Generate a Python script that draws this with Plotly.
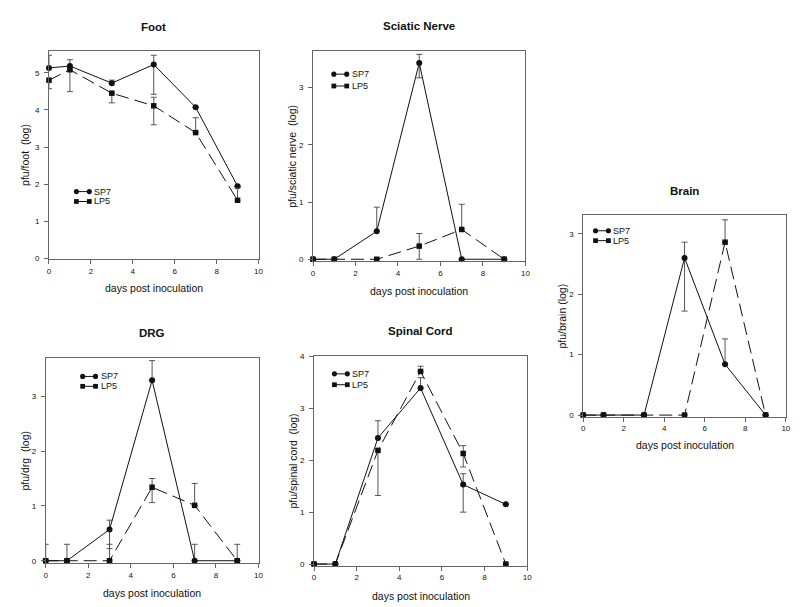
import plotly.graph_objects as go

W, H = 800, 607

days = [0, 1, 3, 5, 7, 9]
x_ticks = [0, 2, 4, 6, 8, 10]

# Foot
foot_sp7 = [5.13, 5.18, 4.72, 5.22, 4.07, 1.95]
foot_sp7_up = [0.34, 0.17, 0.08, 0.25, 0, 0]
foot_sp7_dn = [0, 0, 0, 0.80, 0, 0]
foot_lp5 = [4.80, 5.08, 4.45, 4.11, 3.39, 1.57]
foot_lp5_up = [0, 0, 0, 0.23, 0.40, 0.33]
foot_lp5_dn = [0.23, 0.59, 0.26, 0.51, 0, 0]

# Sciatic nerve
sci_sp7 = [0, 0, 0.49, 3.43, 0, 0]
sci_sp7_up = [0, 0, 0.42, 0.15, 0, 0]
sci_sp7_dn = [0, 0, 0, 0.26, 0, 0]
sci_lp5 = [0, 0, 0, 0.23, 0.52, 0]
sci_lp5_up = [0, 0, 0, 0.22, 0.44, 0]
sci_lp5_dn = [0, 0, 0, 0.23, 0, 0]

# Brain
brain_sp7 = [0, 0, 0, 2.60, 0.84, 0]
brain_sp7_up = [0, 0, 0, 0.26, 0.42, 0]
brain_sp7_dn = [0, 0, 0, 0.88, 0, 0]
brain_lp5 = [0, 0, 0, 0, 2.86, 0]
brain_lp5_up = [0, 0, 0, 0, 0.37, 0]
brain_lp5_dn = [0, 0, 0, 0, 0, 0]

# DRG
drg_sp7 = [0, 0, 0.57, 3.29, 0, 0]
drg_sp7_up = [0.30, 0, 0.17, 0.36, 0.30, 0]
drg_sp7_dn = [0, 0, 0.35, 0, 0, 0]
drg_lp5 = [0, 0, 0, 1.34, 1.01, 0]
drg_lp5_up = [0, 0.30, 0.30, 0.16, 0.40, 0.30]
drg_lp5_dn = [0, 0, 0, 0.28, 0, 0]

# Spinal cord
sc_sp7 = [0, 0, 2.43, 3.39, 1.53, 1.15]
sc_sp7_up = [0, 0, 0.33, 0.20, 0.21, 0]
sc_sp7_dn = [0, 0, 0, 0, 0.53, 0]
sc_lp5 = [0, 0, 2.19, 3.71, 2.13, 0]
sc_lp5_up = [0, 0, 0, 0.10, 0.15, 0]
sc_lp5_dn = [0, 0, 0.87, 0, 0.26, 0]

NB = "\u00a0"
panels = [
    dict(title="Foot", ylabel="pfu/foot" + NB * 2 + "(log)",
         sp7=(foot_sp7, foot_sp7_up, foot_sp7_dn), lp5=(foot_lp5, foot_lp5_up, foot_lp5_dn),
         box=(39.3, 39.3, 250.7, 250.7), yrange=[-0.02, 5.59], ymax=5,
         title_y=15, xlab_y=280, ylab_x=15, leg=(83, 182, 10)),
    dict(title="Sciatic Nerve", ylabel="pfu/sciatic nerve" + NB * 2 + "(log)",
         sp7=(sci_sp7, sci_sp7_up, sci_sp7_dn), lp5=(sci_lp5, sci_lp5_up, sci_lp5_dn),
         box=(305.7, 40, 520, 252.3), yrange=[-0.03, 3.63], ymax=3,
         title_y=14, xlab_y=282.7, ylab_x=285, leg=(342.7, 63, 12)),
    dict(title="Brain", ylabel="pfu/brain (log)",
         sp7=(brain_sp7, brain_sp7_up, brain_sp7_dn), lp5=(brain_lp5, brain_lp5_up, brain_lp5_dn),
         box=(578.3, 205.7, 782.7, 410), yrange=[-0.025, 3.31], ymax=3,
         title_y=181, xlab_y=438.3, ylab_x=556.7, leg=(606.7, 221.7, 10)),
    dict(title="DRG", ylabel="pfu/drg" + NB * 2 + "(log)",
         sp7=(drg_sp7, drg_sp7_up, drg_sp7_dn), lp5=(drg_lp5, drg_lp5_up, drg_lp5_dn),
         box=(36, 351, 250.7, 558.3), yrange=[-0.04, 3.69], ymax=3,
         title_y=325, xlab_y=588.3, ylab_x=15, leg=(89.3, 369.3, 10)),
    dict(title="Spinal Cord", ylabel="pfu/spinal cord" + NB * 2 + "(log)",
         sp7=(sc_sp7, sc_sp7_up, sc_sp7_dn), lp5=(sc_lp5, sc_lp5_up, sc_lp5_dn),
         box=(306.7, 349, 521.7, 561), yrange=[-0.03, 4.0], ymax=4,
         title_y=323, xlab_y=591.7, ylab_x=285, leg=(343.3, 366.7, 11)),
]

FONT = "Liberation Sans, Arial, Helvetica, sans-serif"
INK = "#111111"
AXC = "#666666"
ERR = "#555555"


def px(xp):
    return xp / W


def py(yp):
    return 1 - yp / H


fig = go.Figure()
shapes = []
annotations = []
layout = {}

for i, p in enumerate(panels, start=1):
    xa = "x" if i == 1 else f"x{i}"
    ya = "y" if i == 1 else f"y{i}"
    l, t, r, b = p["box"]
    axis_common = dict(
        showline=True, mirror=True, linecolor=AXC, linewidth=1,
        ticks="outside", ticklen=4, tickcolor=AXC, tickwidth=1,
        showgrid=False, zeroline=False,
        tickfont=dict(family=FONT, size=8, color=INK),
    )
    layout["xaxis" if i == 1 else f"xaxis{i}"] = dict(
        domain=[px(l), px(r)], range=[0, 10], tickvals=x_ticks,
        anchor=ya, **axis_common)
    layout["yaxis" if i == 1 else f"yaxis{i}"] = dict(
        domain=[py(b), py(t)], range=p["yrange"],
        tickvals=list(range(0, p["ymax"] + 1)), anchor=xa,
        ticklabelstandoff=3, **axis_common)

    for key, sym, dash, msize in (("sp7", "circle", "solid", 6), ("lp5", "square", "13px,6px", 5.5)):
        vals, up, dn = p[key]
        fig.add_trace(go.Scatter(
            x=days, y=vals, xaxis=xa, yaxis=ya, mode="lines+markers",
            name=key.upper(), showlegend=False, cliponaxis=False,
            line=dict(color=INK, width=1, dash=dash),
            marker=dict(symbol=sym, size=msize, color=INK),
            error_y=dict(type="data", symmetric=False, array=up, arrayminus=dn,
                         color=ERR, thickness=1, width=3),
        ))

    cx = (l + r) / 2
    annotations.append(dict(text="<b>" + p["title"] + "</b>", x=px(cx), y=py(p["title_y"]),
                            xref="paper", yref="paper", showarrow=False,
                            font=dict(family=FONT, size=11.5, color=INK),
                            xanchor="center", yanchor="middle"))
    annotations.append(dict(text="days post inoculation", x=px(cx), y=py(p["xlab_y"]),
                            xref="paper", yref="paper", showarrow=False,
                            font=dict(family=FONT, size=10.5, color=INK),
                            xanchor="center", yanchor="middle"))
    annotations.append(dict(text=p["ylabel"], x=px(p["ylab_x"]), y=py((t + b) / 2),
                            xref="paper", yref="paper", showarrow=False, textangle=-90,
                            font=dict(family=FONT, size=10.5, color=INK),
                            xanchor="center", yanchor="middle"))

    # legend (drawn as a small key inside each panel)
    tx, ry, gap = p["leg"]
    for k, (label, sym) in enumerate((("SP7", "circle"), ("LP5", "square"))):
        yy = ry + k * gap
        x0, x1 = tx - 16, tx - 3
        shapes.append(dict(type="line", xref="paper", yref="paper",
                           x0=px(x0), x1=px(x1), y0=py(yy), y1=py(yy),
                           line=dict(color=INK, width=1)))
        rr = 2.6 if sym == "circle" else 2.4
        for cxm in (x0, x1):
            shapes.append(dict(type="circle" if sym == "circle" else "rect",
                               xref="paper", yref="paper",
                               x0=px(cxm - rr), x1=px(cxm + rr), y0=py(yy + rr), y1=py(yy - rr),
                               fillcolor=INK, line=dict(color=INK, width=0)))
        annotations.append(dict(text=label, x=px(tx), y=py(yy), xref="paper", yref="paper",
                                showarrow=False, xanchor="left", yanchor="middle",
                                font=dict(family=FONT, size=9, color=INK)))

fig.update_layout(
    width=W, height=H, margin=dict(l=0, r=0, t=0, b=0),
    paper_bgcolor="white", plot_bgcolor="white",
    showlegend=False, shapes=shapes, annotations=annotations,
    **layout,
)

fig.write_html("out.html")
